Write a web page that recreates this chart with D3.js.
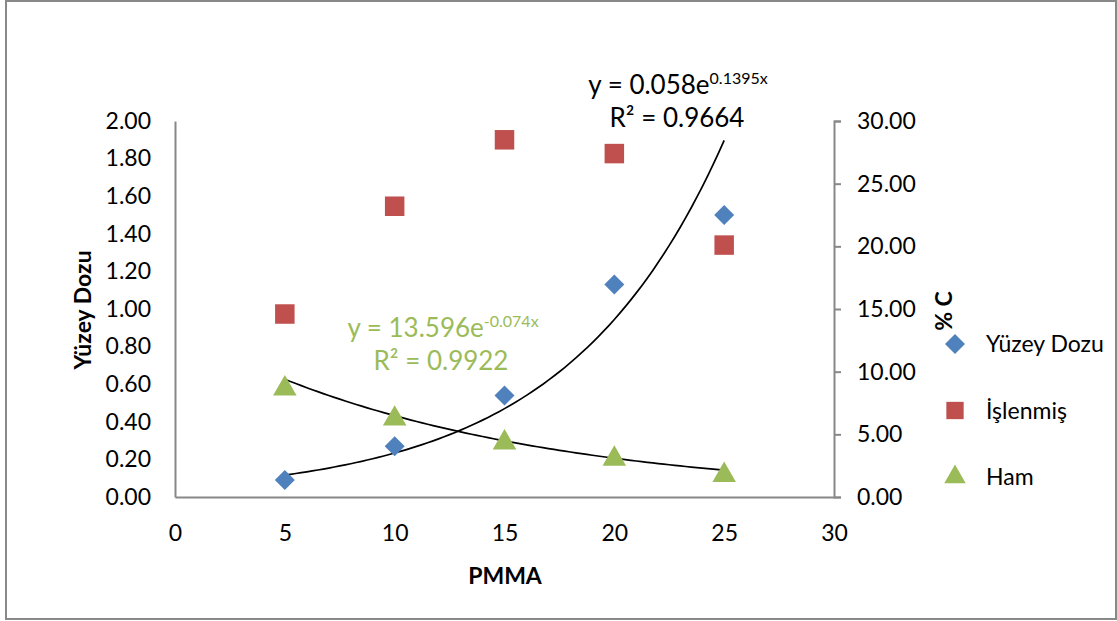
<!DOCTYPE html>
<meta charset="utf-8">
<style>
body { margin: 0; background: #fff; }
text { font-family: Lato, "Open Sans", sans-serif; }
</style>
<body>
<script src="https://d3js.org/d3.v7.min.js"></script>
<script>

// data
var pmma = [5, 10, 15, 20, 25];
var yuzeyDozu = [0.09, 0.27, 0.54, 1.13, 1.50];      // left axis
var islenmis = [14.6, 23.2, 28.5, 27.4, 20.1];       // right axis
var ham = [8.8, 6.4, 4.5, 3.2, 1.9];                 // right axis
var leftTicks = [0, 0.2, 0.4, 0.6, 0.8, 1.0, 1.2, 1.4, 1.6, 1.8, 2.0];
var rightTicks = [0, 5, 10, 15, 20, 25, 30];
var xTicks = [0, 5, 10, 15, 20, 25, 30];
// exponential trendlines y = a * e^(b x)
var trendYuzey = {a: 0.058, b: 0.1395};
var trendHam = {a: 13.596, b: -0.074};

var W = 1117, H = 621;
var margin = {top: 121, right: 283, bottom: 124, left: 175},
    width = W - margin.left - margin.right,
    height = H - margin.top - margin.bottom;

var svg = d3.select("body").append("svg")
    .attr("width", W)
    .attr("height", H);

// outer frame
svg.append("rect")
    .attr("x", 6).attr("y", 1)
    .attr("width", 1110).attr("height", 618)
    .attr("fill", "#fff")
    .attr("stroke", "#898989")
    .attr("stroke-width", 2);

var g = svg.append("g")
    .attr("transform", "translate(" + margin.left + "," + margin.top + ")");

var x = d3.scaleLinear().domain([0, 30]).range([0, width]);
var yL = d3.scaleLinear().domain([0, 2]).range([height, 0]);
var yR = d3.scaleLinear().domain([0, 30]).range([height, 0]);

// x axis
var xAxis = g.append("g")
    .attr("transform", "translate(0," + height + ")")
    .call(d3.axisBottom(x).tickValues(xTicks).tickSize(0).tickPadding(28));
// left axis
var yAxisL = g.append("g")
    .call(d3.axisLeft(yL).tickValues(leftTicks).tickSize(0).tickPadding(24)
      .tickFormat(d3.format(".2f")));
// right axis
var yAxisR = g.append("g")
    .attr("transform", "translate(" + width + ",0)")
    .call(d3.axisRight(yR).tickValues(rightTicks).tickSize(7).tickPadding(16)
      .tickFormat(d3.format(".2f")));

[xAxis, yAxisL, yAxisR].forEach(function(a) {
  a.select(".domain").attr("stroke", "#888").attr("stroke-width", 2);
  a.selectAll(".tick line").attr("stroke", "#888").attr("stroke-width", 2);
  a.selectAll("text").style("font-size", "23px").attr("fill", "#000")
    .style("font-family", "Lato, sans-serif");
});

// axis titles
svg.append("text")
    .attr("x", 505).attr("y", 584)
    .attr("text-anchor", "middle")
    .style("font-size", "23px").style("font-weight", "bold")
    .text("PMMA");
svg.append("text")
    .attr("transform", "translate(91,310) rotate(-90)")
    .attr("text-anchor", "middle")
    .style("font-size", "23px").style("font-weight", "bold")
    .text("Yüzey Dozu");
svg.append("text")
    .attr("transform", "translate(952,311) rotate(-90)")
    .attr("text-anchor", "middle")
    .style("font-size", "23px").style("font-weight", "bold")
    .text("% C");

// trendlines
function trendPts(t) {
  return d3.range(pmma[0], pmma[pmma.length - 1] + 0.01, 0.25)
    .map(function(v) { return [v, t.a * Math.exp(t.b * v)]; });
}
g.append("path")
    .attr("d", d3.line().x(function(d) { return x(d[0]); }).y(function(d) { return yL(d[1]); })(trendPts(trendYuzey)))
    .attr("fill", "none").attr("stroke", "#000").attr("stroke-width", 1.7);
g.append("path")
    .attr("d", d3.line().x(function(d) { return x(d[0]); }).y(function(d) { return yR(d[1]); })(trendPts(trendHam)))
    .attr("fill", "none").attr("stroke", "#000").attr("stroke-width", 1.7);

var blue = "#4F81BD", red = "#C0504D", green = "#9BBB59";
var diamond = d3.symbol().type(d3.symbolSquare).size(200);
var square = d3.symbol().type(d3.symbolSquare).size(380);
var triangle = d3.symbol().type(d3.symbolTriangle).size(240);

g.selectAll(".isl").data(pmma).enter().append("path")
    .attr("d", square)
    .attr("transform", function(d, i) { return "translate(" + x(d) + "," + yR(islenmis[i]) + ")"; })
    .attr("fill", red);
g.selectAll(".ham").data(pmma).enter().append("path")
    .attr("d", triangle)
    .attr("transform", function(d, i) { return "translate(" + x(d) + "," + (yR(ham[i]) + 2) + ")"; })
    .attr("fill", green);
g.selectAll(".yd").data(pmma).enter().append("path")
    .attr("d", diamond)
    .attr("transform", function(d, i) { return "translate(" + x(d) + "," + yL(yuzeyDozu[i]) + ") rotate(45)"; })
    .attr("fill", blue);

// equation labels
var eq1 = svg.append("text").attr("x", 678).attr("y", 94)
    .attr("text-anchor", "middle").style("font-size", "26px");
eq1.append("tspan").text("y = 0.058e");
eq1.append("tspan").attr("dy", -10).style("font-size", "16px").text("0.1395x");
svg.append("text").attr("x", 677).attr("y", 127)
    .attr("text-anchor", "middle").style("font-size", "26px")
    .text("R² = 0.9664");

var eq2 = svg.append("text").attr("x", 443).attr("y", 337)
    .attr("text-anchor", "middle").style("font-size", "26px").attr("fill", green);
eq2.append("tspan").text("y = 13.596e");
eq2.append("tspan").attr("dy", -10).style("font-size", "16px").text("-0.074x");
svg.append("text").attr("x", 441).attr("y", 370)
    .attr("text-anchor", "middle").style("font-size", "26px").attr("fill", green)
    .text("R² = 0.9922");

// legend
var legend = [
  {name: "Yüzey Dozu", color: blue, sym: diamond, rot: 45},
  {name: "İşlenmiş", color: red, sym: d3.symbol().type(d3.symbolSquare).size(300), rot: 0},
  {name: "Ham", color: green, sym: d3.symbol().type(d3.symbolTriangle).size(200), rot: 0}
];
var lg = svg.selectAll(".lg").data(legend).enter().append("g")
    .attr("transform", function(d, i) { return "translate(955," + (344 + i * 66.5) + ")"; });
lg.append("path")
    .attr("d", function(d) { return d.sym(); })
    .attr("transform", function(d) { return "rotate(" + d.rot + ")"; })
    .attr("fill", function(d) { return d.color; });
lg.append("text")
    .attr("x", 31).attr("y", 8)
    .style("font-size", "23px")
    .text(function(d) { return d.name; });

</script>
</body>
